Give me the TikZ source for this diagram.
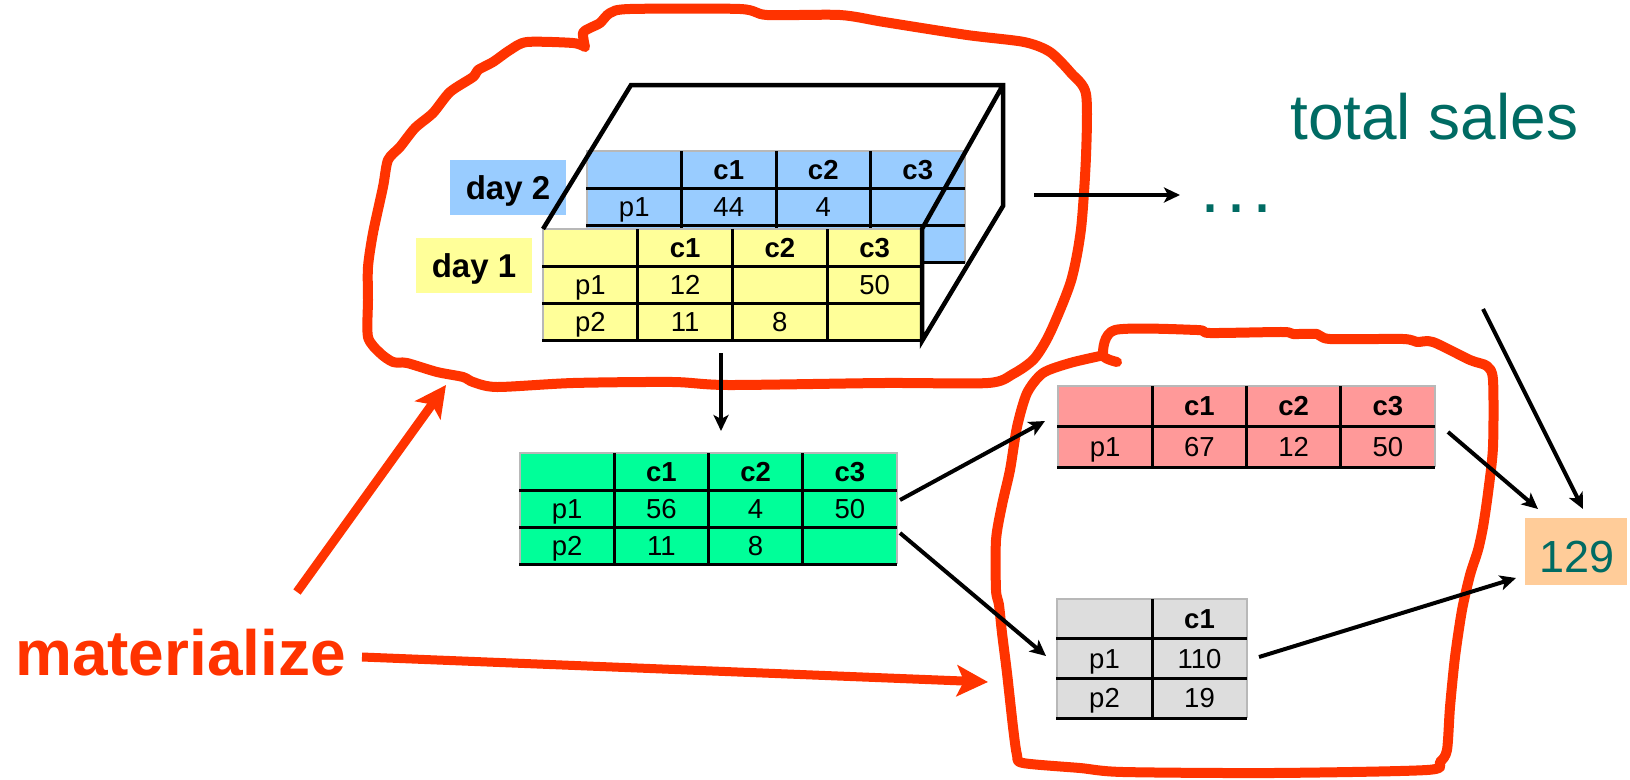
\documentclass[tikz,border=0pt]{standalone}
\usepackage{fontspec}
\setmainfont{Liberation Sans}
\usetikzlibrary{arrows.meta}
\definecolor{bluec}{HTML}{99CCFF}
\definecolor{yellowc}{HTML}{FFFF99}
\definecolor{greenc}{HTML}{00FF99}
\definecolor{pinkc}{HTML}{FF9999}
\definecolor{greyc}{HTML}{DDDDDD}
\definecolor{orangec}{HTML}{FFCC99}
\definecolor{redc}{HTML}{FF3300}
\definecolor{tealc}{RGB}{0,107,99}
\definecolor{bordc}{HTML}{B8B8B8}
\newcommand\tabfont{\fontsize{27.5}{32}\selectfont}
\tikzset{
  tblbg/.style={anchor=north west, inner sep=0pt, outer sep=0pt, draw=none},
  tblborder/.style={draw=bordc, line width=2.5pt},
  tblline/.style={draw=black, line width=3pt},
  cell/.style={font=\tabfont, inner sep=0pt, text height=19pt, text depth=0pt, anchor=center},
  daylabel/.style={font=\fontsize{33}{38}\selectfont\bfseries, inner sep=0pt, minimum width=116pt, minimum height=55pt, text height=24pt, text depth=0pt},
  cubeline/.style={draw=black, line width=4.5pt, line join=miter},
  blkarrow/.style={draw=black, line width=4pt, -{Stealth[length=16pt,width=15pt,inset=4pt]}},
  redloop/.style={draw=redc, line width=10pt, line join=round, line cap=round},
  redarrow/.style={draw=redc, line width=9pt, -{Stealth[length=31pt,width=31pt,inset=7pt]}},
}
\newcommand\datatable[9]{%
  \pgfmathsetmacro\tabW{#7*#5}%
  \pgfmathsetmacro\tabH{#8*#6}%
  \pgfmathtruncatemacro\tabNC{#7-1}%
  \node[tblbg, fill=#2, minimum width=\tabW pt, minimum height=\tabH pt] (#1) at (#3,#4) {};
  \draw[tblborder] (#3,#4+\tabH) -- (#3,#4) -- (#3+\tabW,#4) -- (#3+\tabW,#4+\tabH);
  \foreach \i in {1,...,\tabNC} \draw[tblline] (#3+\i*#5,#4) -- ++(0,\tabH);
  \foreach \j in {1,...,#8} \draw[tblline] (#3-1,#4+\j*#6) -- ++(\tabW+1,0);
  \foreach \c/\r/\t in {#9} \node[cell] (#1-\c-\r) at (#3+\c*#5-0.5*#5,#4+\r*#6-0.5*#6) {\t};
}
\begin{document}
\begin{tikzpicture}[x=1pt,y=-1pt]
\useasboundingbox (0,0) rectangle (1630,779);

% red loops (drawn first, under black arrows)
\draw[redloop] plot[smooth, tension=0.45] coordinates {
 (585,47) (583,33) (590,28) (600,23) (610,13) (630,9) (740,9) (767,15) (840,15)
 (884,22) (967,35) (1024,42) (1050,52) (1071,73) (1086,94) (1086,156) (1081,229)
 (1071,281) (1050,333) (1034,359) (1013,374) (988,383) (884,383) (728,385) (673,382)
 (573,383) (497,387) (473,382) (463,377) (437,372) (407,363) (393,362) (380,353)
 (368,337) (368,300) (368,267) (373,233) (383,187) (388,160) (400,147) (415,128)
 (433,113) (450,92) (473,77) (478,70) (493,62) (510,50) (527,42) (573,43) (585,47)};
\draw[redloop] plot[smooth, tension=0.45] coordinates {
 (1117,362) (1103,355) (1115,330) (1197,330) (1210,333) (1283,332) (1293,334)
 (1317,334) (1330,339) (1403,339) (1417,342) (1433,342) (1470,360) (1487,366)
 (1493,380) (1493,447) (1488,493) (1483,527) (1478,550) (1470,575) (1462,610)
 (1455,657) (1450,707) (1447,750) (1440,762) (1427,770) (1273,773) (1123,772)
 (1080,768) (1023,763) (1017,755) (1013,727) (1007,673) (1002,633) (999,605)
 (996,590) (996,540) (1002,505) (1010,470) (1017,427) (1027,393) (1043,373)
 (1070,363) (1100,356)};

% day 2 table and label
\datatable{blue}{bluec}{587}{151}{94.5}{37.33}{4}{3}{2/1/\textbf{c1},3/1/\textbf{c2},4/1/\textbf{c3},1/2/p1,2/2/44,3/2/4}
\node[daylabel, fill=bluec] (day2) at (508,187.5) {day 2};
\node[daylabel, fill=yellowc] (day1) at (474,265.5) {day 1};

% day 1 table
\datatable{yellow}{yellowc}{543}{229}{94.75}{37.33}{4}{3}{2/1/\textbf{c1},3/1/\textbf{c2},4/1/\textbf{c3},1/2/p1,2/2/12,4/2/50,1/3/p2,2/3/11,3/3/8}

% cube edges
\coordinate (FTL) at (543,229);
\coordinate (BTL) at (631,85);
\coordinate (BTR) at (1003,85);
\coordinate (BBR) at (1003,206);
\coordinate (FBR) at (922,341);
\coordinate (FTR) at (922,229);
\draw[cubeline] (FTL) -- (BTL) -- (BTR) -- (BBR) -- (FBR) -- (FTR) -- (BTR);

% other tables
\datatable{green}{greenc}{520}{453}{94.25}{37}{4}{3}{2/1/\textbf{c1},3/1/\textbf{c2},4/1/\textbf{c3},1/2/p1,2/2/56,3/2/4,4/2/50,1/3/p2,2/3/11,3/3/8}
\datatable{pink}{pinkc}{1058}{386}{94.25}{40.5}{4}{2}{2/1/\textbf{c1},3/1/\textbf{c2},4/1/\textbf{c3},1/2/p1,2/2/67,3/2/12,4/2/50}
\datatable{grey}{greyc}{1057}{599}{95}{39.75}{2}{3}{2/1/\textbf{c1},1/2/p1,2/2/110,1/3/p2,2/3/19}

% texts on the right
\node[anchor=base west, inner sep=0pt, font=\fontsize{64}{72}\selectfont, text=tealc] (total) at (1290,139) {total sales};
\node[anchor=base west, inner sep=0pt, font=\fontsize{72}{80}\selectfont, text=tealc] (dots) at (1200,212) {.\hspace{6pt}.\hspace{6pt}.};
\node[fill=orangec, minimum width=102pt, minimum height=67pt, inner sep=0pt] (sum) at (1576,551.5) {};
\node[anchor=base, inner sep=0pt, font=\fontsize{45}{52}\selectfont, text=tealc] (sumtext) at (1577,572) {129};

% black arrows
\coordinate (cubeOut) at (1034,195);
\coordinate (dotsIn) at (1180,195);
\coordinate (cubeDown) at (721,353);
\coordinate (greenIn) at (721,431);
\coordinate (greenOutA) at (900,500);
\coordinate (pinkIn) at (1045,421);
\coordinate (greenOutB) at (900,533);
\coordinate (greyIn) at (1046,656);
\coordinate (pinkOut) at (1448,432);
\coordinate (sumInA) at (1538,509);
\coordinate (farOut) at (1483,309);
\coordinate (sumInB) at (1583,509);
\coordinate (greyOut) at (1259,657);
\coordinate (sumInC) at (1516,578);
\draw[blkarrow] (cubeOut) -- (dotsIn);
\draw[blkarrow] (cubeDown) -- (greenIn);
\draw[blkarrow] (greenOutA) -- (pinkIn);
\draw[blkarrow] (greenOutB) -- (greyIn);
\draw[blkarrow] (pinkOut) -- (sumInA);
\draw[blkarrow] (farOut) -- (sumInB);
\draw[blkarrow] (greyOut) -- (sumInC);

% materialize
\node[anchor=base west, inner sep=0pt, font=\fontsize{64}{72}\selectfont\bfseries, text=redc] (mat) at (15,675) {materialize};
\coordinate (matUp) at (297,592);
\coordinate (loopA) at (446,385);
\coordinate (matRight) at (362,657);
\coordinate (loopB) at (988,682);
\draw[redarrow] (matUp) -- (loopA);
\draw[redarrow] (matRight) -- (loopB);
\end{tikzpicture}
\end{document}
